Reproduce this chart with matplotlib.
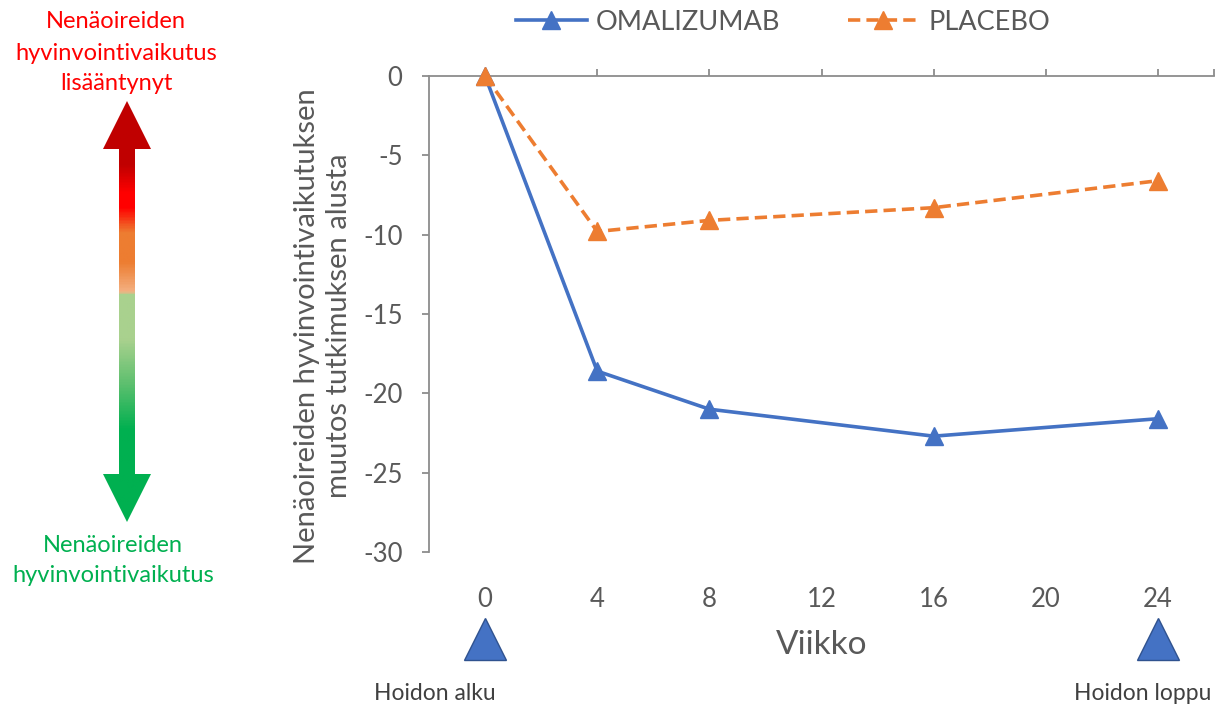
import numpy as np
import matplotlib
matplotlib.use("Agg")
import matplotlib.pyplot as plt
from matplotlib.colors import LinearSegmentedColormap
from matplotlib.patches import Polygon
from matplotlib.transforms import blended_transform_factory

plt.rcParams['font.family'] = ['Lato', 'DejaVu Sans']
plt.rcParams['axes.unicode_minus'] = False

# data
weeks = [0, 4, 8, 16, 24]
omalizumab = [0, -18.6, -21.0, -22.7, -21.6]
placebo = [0, -9.8, -9.1, -8.3, -6.6]
xtick_weeks = [0, 4, 8, 12, 16, 20, 24]
ytick_vals = [0, -5, -10, -15, -20, -25, -30]

grey = '#595959'
axis_col = '#8c8c8c'
blue = '#4472C4'
orange = '#ED7D31'

W, H = 1224, 706
fig = plt.figure(figsize=(W / 100, H / 100), dpi=100)

# main axes, placed in pixels
ax_l, ax_r, ax_t, ax_b = 429, 1214, 76, 552
ax = fig.add_axes([ax_l / W, 1 - ax_b / H, (ax_r - ax_l) / W, (ax_b - ax_t) / H])

ax.plot(weeks, omalizumab, color=blue, lw=2.6, marker='^', ms=13,
        label='OMALIZUMAB', clip_on=False, zorder=3)
ax.plot(weeks, placebo, color=orange, lw=2.6, ls=(0, (3.4, 1.7)), marker='^', ms=13,
        label='PLACEBO', clip_on=False, zorder=4)

ax.set_xlim(-2, 26)
ax.set_ylim(-30, 0)

for s in ['right', 'bottom']:
    ax.spines[s].set_visible(False)
for s in ['left', 'top']:
    ax.spines[s].set_color(axis_col)
    ax.spines[s].set_linewidth(1.3)

ax.set_yticks(ytick_vals)
ax.tick_params(axis='y', direction='out', length=5, width=1.3, color=axis_col,
               labelcolor=grey, labelsize=18.5, pad=14)
ax.set_xticks(xtick_weeks)
ax.set_xticks([26], minor=True)
ax.tick_params(axis='x', which='both', top=True, bottom=False, labeltop=False,
               labelbottom=True, direction='out', length=5, width=1.3, color=axis_col,
               labelcolor=grey, labelsize=18.5, pad=20)

ax.set_xlabel('Viikko', fontsize=24, color=grey, va='center')
ax.xaxis.set_label_coords(0.5, (ax_b - 645) / (ax_b - ax_t))
ax.set_ylabel('Nenäoireiden hyvinvointivaikutuksen\nmuutos tutkimuksen alusta',
              fontsize=21, color=grey, va='center', linespacing=1.3)
ax.yaxis.set_label_coords((323 - ax_l) / (ax_r - ax_l), (ax_b - 326) / (ax_b - ax_t))

ax.legend(loc='center', bbox_to_anchor=(783 / W, 1 - 22 / H), bbox_transform=fig.transFigure,
          ncol=2, frameon=False, fontsize=19.5, handlelength=2.6, columnspacing=2.5,
          handletextpad=0.35, labelcolor=grey)

# treatment start / end markers under the axis
trans = blended_transform_factory(ax.transData, fig.transFigure)
ax.plot([0, 24], [1 - 639 / H] * 2, ls='none', marker='^', ms=30, color=blue,
        mec='#2F528F', mew=1, transform=trans, clip_on=False)
fig.text(435 / W, 1 - 693 / H, 'Hoidon alku', ha='center', va='center', fontsize=16.5, color='#404040')
fig.text(1143 / W, 1 - 693 / H, 'Hoidon loppu', ha='center', va='center', fontsize=16.5, color='#404040')

# left side: gradient double arrow
deco = fig.add_axes([0, 0, 1, 1], zorder=-1)
deco.set_xlim(0, W)
deco.set_ylim(H, 0)
deco.axis('off')

cx, sh, hh = 127, 8, 24
y_tip1, y_base1, y_base2, y_tip2 = 101, 149, 474, 522
arrow = Polygon([(cx, y_tip1), (cx + hh, y_base1), (cx + sh, y_base1), (cx + sh, y_base2),
                 (cx + hh, y_base2), (cx, y_tip2), (cx - hh, y_base2), (cx - sh, y_base2),
                 (cx - sh, y_base1), (cx - hh, y_base1)], closed=True, fc='none', ec='none')
deco.add_patch(arrow)

stops = [(101, '#C00000'), (164, '#C00000'), (192, '#FF0000'), (207, '#FF0000'),
         (232, '#ED7D31'), (262, '#ED7D31'), (292, '#F4B183'), (294, '#A9D18E'),
         (340, '#A9D18E'), (385, '#5CBF6E'), (430, '#00B050'), (522, '#00B050')]
span = y_tip2 - y_tip1
cmap = LinearSegmentedColormap.from_list(
    'arr', [((y - y_tip1) / span, c) for y, c in stops])
grad = np.linspace(0, 1, 400).reshape(-1, 1)
im = deco.imshow(grad, cmap=cmap, aspect='auto',
                 extent=(cx - hh, cx + hh, y_tip2, y_tip1), origin='upper')
im.set_clip_path(arrow)

red_lines = ['Nenäoireiden', 'hyvinvointivaikutus', 'lisääntynyt']
for y, t in zip([22, 53, 84], red_lines):
    deco.text(116, y, t, ha='center', va='center', fontsize=17, color='#FF0000')
green_lines = ['Nenäoireiden', 'hyvinvointivaikutus']
for y, t in zip([546, 576], green_lines):
    deco.text(113, y, t, ha='center', va='center', fontsize=17, color='#00B050')

fig.savefig('out.png', dpi=100)
